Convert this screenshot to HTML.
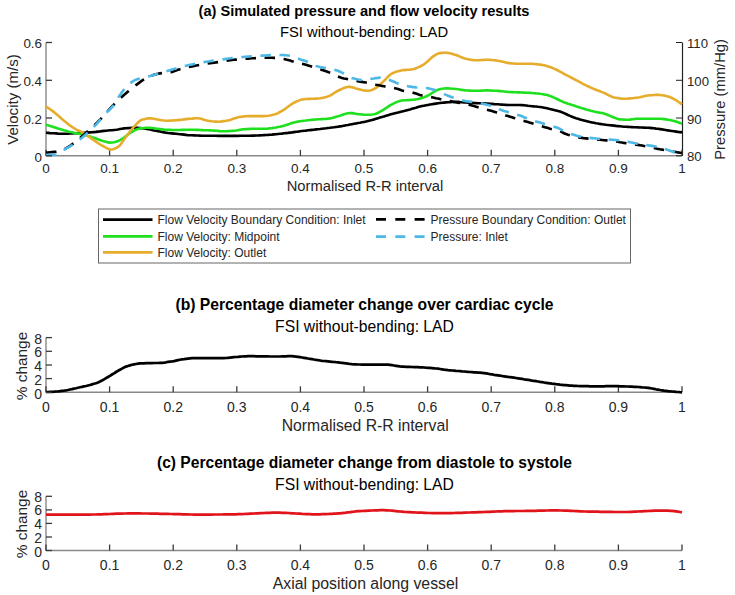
<!DOCTYPE html>
<html><head><meta charset="utf-8"><style>
html,body{margin:0;padding:0;background:#fff;}
body{width:735px;height:595px;overflow:hidden;}
svg{display:block;font-family:"Liberation Sans", sans-serif;}
</style></head><body>
<svg width="735" height="595" viewBox="0 0 735 595">
<text x="364" y="16.0" font-size="14.6" font-weight="bold" text-anchor="middle" fill="#000">(a) Simulated pressure and flow velocity results</text>
<text x="364" y="36.8" font-size="14.75" text-anchor="middle" fill="#000">FSI without-bending: LAD</text>
<line x1="46" y1="42.5" x2="46" y2="156" stroke="#888" stroke-width="1.4"/>
<line x1="46" y1="155.8" x2="682" y2="155.8" stroke="#888" stroke-width="1.4"/>
<line x1="682.5" y1="42.5" x2="682.5" y2="156" stroke="#222" stroke-width="1.2"/>
<line x1="46.0" y1="155.8" x2="46.0" y2="149.8" stroke="#3a3a3a" stroke-width="1.3"/>
<text x="46.0" y="173" font-size="13.5" text-anchor="middle" fill="#262626">0</text>
<line x1="109.6" y1="155.8" x2="109.6" y2="149.8" stroke="#3a3a3a" stroke-width="1.3"/>
<text x="109.6" y="173" font-size="13.5" text-anchor="middle" fill="#262626">0.1</text>
<line x1="173.2" y1="155.8" x2="173.2" y2="149.8" stroke="#3a3a3a" stroke-width="1.3"/>
<text x="173.2" y="173" font-size="13.5" text-anchor="middle" fill="#262626">0.2</text>
<line x1="236.8" y1="155.8" x2="236.8" y2="149.8" stroke="#3a3a3a" stroke-width="1.3"/>
<text x="236.8" y="173" font-size="13.5" text-anchor="middle" fill="#262626">0.3</text>
<line x1="300.4" y1="155.8" x2="300.4" y2="149.8" stroke="#3a3a3a" stroke-width="1.3"/>
<text x="300.4" y="173" font-size="13.5" text-anchor="middle" fill="#262626">0.4</text>
<line x1="364.0" y1="155.8" x2="364.0" y2="149.8" stroke="#3a3a3a" stroke-width="1.3"/>
<text x="364.0" y="173" font-size="13.5" text-anchor="middle" fill="#262626">0.5</text>
<line x1="427.6" y1="155.8" x2="427.6" y2="149.8" stroke="#3a3a3a" stroke-width="1.3"/>
<text x="427.6" y="173" font-size="13.5" text-anchor="middle" fill="#262626">0.6</text>
<line x1="491.2" y1="155.8" x2="491.2" y2="149.8" stroke="#3a3a3a" stroke-width="1.3"/>
<text x="491.2" y="173" font-size="13.5" text-anchor="middle" fill="#262626">0.7</text>
<line x1="554.8" y1="155.8" x2="554.8" y2="149.8" stroke="#3a3a3a" stroke-width="1.3"/>
<text x="554.8" y="173" font-size="13.5" text-anchor="middle" fill="#262626">0.8</text>
<line x1="618.4" y1="155.8" x2="618.4" y2="149.8" stroke="#3a3a3a" stroke-width="1.3"/>
<text x="618.4" y="173" font-size="13.5" text-anchor="middle" fill="#262626">0.9</text>
<line x1="682.0" y1="155.8" x2="682.0" y2="149.8" stroke="#3a3a3a" stroke-width="1.3"/>
<text x="682.0" y="173" font-size="13.5" text-anchor="middle" fill="#262626">1</text>
<path d="M46.0,132.8 L48.0,132.9 L50.0,133.1 L52.0,133.2 L54.0,133.3 L56.0,133.4 L58.0,133.6 L60.0,133.7 L62.0,133.8 L64.0,133.8 L66.0,133.8 L68.0,133.7 L70.0,133.5 L72.0,133.4 L74.0,133.3 L76.0,133.2 L78.0,133.1 L80.0,133.0 L82.0,132.9 L84.0,132.8 L86.0,132.7 L88.0,132.6 L90.0,132.4 L92.0,132.3 L94.0,132.1 L96.0,131.9 L98.0,131.6 L100.0,131.4 L102.0,131.1 L104.0,130.9 L106.0,130.7 L108.0,130.5 L110.0,130.3 L112.0,130.2 L114.0,130.0 L116.0,129.8 L118.0,129.5 L120.0,129.1 L122.0,128.7 L124.0,128.4 L126.0,128.2 L128.0,128.1 L130.0,128.0 L132.0,127.9 L134.0,127.8 L136.0,127.8 L138.0,127.9 L140.0,128.0 L142.0,128.3 L144.0,128.5 L146.0,128.8 L148.0,129.1 L150.0,129.5 L152.0,129.9 L154.0,130.4 L156.0,130.8 L158.0,131.2 L160.0,131.6 L162.0,132.0 L164.0,132.4 L166.0,132.7 L168.0,133.0 L170.0,133.2 L172.0,133.4 L174.0,133.6 L176.0,133.8 L178.0,134.0 L180.0,134.2 L182.0,134.4 L184.0,134.6 L186.0,134.9 L188.0,135.1 L190.0,135.2 L192.0,135.3 L194.0,135.4 L196.0,135.5 L198.0,135.5 L200.0,135.6 L202.0,135.7 L204.0,135.7 L206.0,135.7 L208.0,135.8 L210.0,135.8 L212.0,135.8 L214.0,135.8 L216.0,135.8 L218.0,135.9 L220.0,135.9 L222.0,135.9 L224.0,135.9 L226.0,135.9 L228.0,135.9 L230.0,135.9 L232.0,135.9 L234.0,135.9 L236.0,135.9 L238.0,135.9 L240.0,135.8 L242.0,135.8 L244.0,135.8 L246.0,135.8 L248.0,135.7 L250.0,135.7 L252.0,135.6 L254.0,135.6 L256.0,135.5 L258.0,135.5 L260.0,135.4 L262.0,135.3 L264.0,135.1 L266.0,135.0 L268.0,134.9 L270.0,134.7 L272.0,134.6 L274.0,134.4 L276.0,134.2 L278.0,134.0 L280.0,133.8 L282.0,133.6 L284.0,133.3 L286.0,133.1 L288.0,132.9 L290.0,132.6 L292.0,132.4 L294.0,132.1 L296.0,131.8 L298.0,131.6 L300.0,131.3 L302.0,131.0 L304.0,130.8 L306.0,130.6 L308.0,130.3 L310.0,130.1 L312.0,129.9 L314.0,129.7 L316.0,129.4 L318.0,129.2 L320.0,129.0 L322.0,128.7 L324.0,128.5 L326.0,128.3 L328.0,128.0 L330.0,127.8 L332.0,127.5 L334.0,127.3 L336.0,127.0 L338.0,126.7 L340.0,126.4 L342.0,126.1 L344.0,125.7 L346.0,125.3 L348.0,125.0 L350.0,124.6 L352.0,124.2 L354.0,123.8 L356.0,123.4 L358.0,123.0 L360.0,122.7 L362.0,122.3 L364.0,121.9 L366.0,121.5 L368.0,121.0 L370.0,120.5 L372.0,120.0 L374.0,119.4 L376.0,118.8 L378.0,118.2 L380.0,117.6 L382.0,117.0 L384.0,116.4 L386.0,115.8 L388.0,115.2 L390.0,114.6 L392.0,114.0 L394.0,113.5 L396.0,113.0 L398.0,112.6 L400.0,112.1 L402.0,111.6 L404.0,111.1 L406.0,110.5 L408.0,109.9 L410.0,109.4 L412.0,108.8 L414.0,108.2 L416.0,107.7 L418.0,107.1 L420.0,106.6 L422.0,106.1 L424.0,105.7 L426.0,105.3 L428.0,104.9 L430.0,104.5 L432.0,104.2 L434.0,103.9 L436.0,103.6 L438.0,103.3 L440.0,103.0 L442.0,102.8 L444.0,102.6 L446.0,102.4 L448.0,102.3 L450.0,102.1 L452.0,102.0 L454.0,101.9 L456.0,101.9 L458.0,101.9 L460.0,102.1 L462.0,102.2 L464.0,102.4 L466.0,102.5 L468.0,102.6 L470.0,102.8 L472.0,102.9 L474.0,103.0 L476.0,103.1 L478.0,103.2 L480.0,103.3 L482.0,103.3 L484.0,103.4 L486.0,103.5 L488.0,103.6 L490.0,103.7 L492.0,103.9 L494.0,104.1 L496.0,104.2 L498.0,104.3 L500.0,104.5 L502.0,104.6 L504.0,104.8 L506.0,104.9 L508.0,105.0 L510.0,105.0 L512.0,105.0 L514.0,105.0 L516.0,105.0 L518.0,105.0 L520.0,105.0 L522.0,105.1 L524.0,105.3 L526.0,105.5 L528.0,105.8 L530.0,106.0 L532.0,106.2 L534.0,106.4 L536.0,106.5 L538.0,106.8 L540.0,107.0 L542.0,107.3 L544.0,107.7 L546.0,108.1 L548.0,108.6 L550.0,109.1 L552.0,109.5 L554.0,110.0 L556.0,110.5 L558.0,111.0 L560.0,111.6 L562.0,112.3 L564.0,113.1 L566.0,114.0 L568.0,115.0 L570.0,115.9 L572.0,116.7 L574.0,117.5 L576.0,118.2 L578.0,118.8 L580.0,119.4 L582.0,120.0 L584.0,120.5 L586.0,121.0 L588.0,121.5 L590.0,122.0 L592.0,122.4 L594.0,122.8 L596.0,123.2 L598.0,123.5 L600.0,123.9 L602.0,124.2 L604.0,124.5 L606.0,124.8 L608.0,125.0 L610.0,125.2 L612.0,125.4 L614.0,125.6 L616.0,125.9 L618.0,126.1 L620.0,126.3 L622.0,126.5 L624.0,126.7 L626.0,126.8 L628.0,126.9 L630.0,127.0 L632.0,127.1 L634.0,127.2 L636.0,127.3 L638.0,127.4 L640.0,127.5 L642.0,127.5 L644.0,127.6 L646.0,127.7 L648.0,127.8 L650.0,127.9 L652.0,128.1 L654.0,128.3 L656.0,128.6 L658.0,128.8 L660.0,129.1 L662.0,129.4 L664.0,129.7 L666.0,130.1 L668.0,130.4 L670.0,130.7 L672.0,131.0 L674.0,131.3 L676.0,131.6 L678.0,131.9 L680.0,132.1 L682.0,132.4" fill="none" stroke="#000" stroke-width="2.6" stroke-linejoin="round"/>
<path d="M46.0,124.7 L48.0,125.3 L50.0,126.0 L52.0,126.6 L54.0,127.2 L56.0,127.8 L58.0,128.5 L60.0,129.1 L62.0,129.7 L64.0,130.3 L66.0,130.8 L68.0,131.4 L70.0,131.9 L72.0,132.3 L74.0,132.8 L76.0,133.2 L78.0,133.6 L80.0,134.0 L82.0,134.4 L84.0,134.8 L86.0,135.3 L88.0,135.9 L90.0,136.5 L92.0,137.2 L94.0,137.8 L96.0,138.5 L98.0,139.2 L100.0,140.0 L102.0,140.7 L104.0,141.3 L106.0,141.8 L108.0,142.4 L110.0,142.6 L112.0,142.5 L114.0,142.2 L116.0,141.8 L118.0,141.1 L120.0,140.1 L122.0,138.9 L124.0,137.6 L126.0,136.1 L128.0,134.5 L130.0,133.0 L132.0,131.8 L134.0,130.7 L136.0,129.7 L138.0,128.9 L140.0,128.4 L142.0,128.2 L144.0,128.0 L146.0,127.8 L148.0,127.8 L150.0,127.9 L152.0,128.0 L154.0,128.2 L156.0,128.5 L158.0,128.7 L160.0,129.0 L162.0,129.3 L164.0,129.6 L166.0,129.8 L168.0,129.9 L170.0,129.9 L172.0,130.0 L174.0,130.0 L176.0,130.0 L178.0,130.0 L180.0,130.0 L182.0,129.9 L184.0,129.9 L186.0,129.8 L188.0,129.8 L190.0,129.8 L192.0,129.8 L194.0,129.8 L196.0,129.9 L198.0,129.9 L200.0,130.0 L202.0,130.1 L204.0,130.2 L206.0,130.2 L208.0,130.3 L210.0,130.4 L212.0,130.5 L214.0,130.6 L216.0,130.8 L218.0,130.9 L220.0,131.1 L222.0,131.2 L224.0,131.2 L226.0,131.2 L228.0,131.1 L230.0,131.0 L232.0,130.9 L234.0,130.8 L236.0,130.6 L238.0,130.2 L240.0,129.8 L242.0,129.4 L244.0,129.2 L246.0,129.1 L248.0,129.0 L250.0,128.9 L252.0,128.8 L254.0,128.8 L256.0,128.8 L258.0,128.8 L260.0,128.8 L262.0,128.8 L264.0,128.8 L266.0,128.7 L268.0,128.6 L270.0,128.3 L272.0,128.1 L274.0,127.8 L276.0,127.5 L278.0,127.1 L280.0,126.7 L282.0,126.2 L284.0,125.7 L286.0,125.1 L288.0,124.4 L290.0,123.7 L292.0,123.0 L294.0,122.4 L296.0,122.0 L298.0,121.6 L300.0,121.3 L302.0,121.0 L304.0,120.7 L306.0,120.5 L308.0,120.2 L310.0,120.0 L312.0,119.8 L314.0,119.6 L316.0,119.5 L318.0,119.3 L320.0,119.2 L322.0,119.1 L324.0,119.0 L326.0,118.9 L328.0,118.7 L330.0,118.4 L332.0,118.0 L334.0,117.4 L336.0,116.8 L338.0,116.3 L340.0,115.7 L342.0,115.0 L344.0,114.3 L346.0,113.7 L348.0,113.2 L350.0,113.0 L352.0,113.1 L354.0,113.4 L356.0,113.8 L358.0,114.1 L360.0,114.3 L362.0,114.5 L364.0,114.7 L366.0,114.8 L368.0,114.8 L370.0,114.7 L372.0,114.5 L374.0,114.2 L376.0,113.7 L378.0,112.8 L380.0,111.7 L382.0,110.6 L384.0,109.4 L386.0,108.1 L388.0,106.7 L390.0,105.4 L392.0,104.3 L394.0,103.3 L396.0,102.4 L398.0,101.6 L400.0,100.9 L402.0,100.5 L404.0,100.3 L406.0,100.2 L408.0,100.1 L410.0,100.0 L412.0,99.8 L414.0,99.6 L416.0,99.3 L418.0,98.9 L420.0,98.4 L422.0,97.9 L424.0,97.3 L426.0,96.5 L428.0,95.5 L430.0,94.3 L432.0,93.0 L434.0,91.8 L436.0,90.6 L438.0,89.7 L440.0,89.2 L442.0,88.8 L444.0,88.5 L446.0,88.4 L448.0,88.4 L450.0,88.5 L452.0,88.7 L454.0,88.8 L456.0,89.0 L458.0,89.2 L460.0,89.6 L462.0,89.9 L464.0,90.2 L466.0,90.4 L468.0,90.5 L470.0,90.6 L472.0,90.7 L474.0,90.8 L476.0,90.8 L478.0,90.8 L480.0,90.7 L482.0,90.6 L484.0,90.5 L486.0,90.4 L488.0,90.4 L490.0,90.5 L492.0,90.6 L494.0,90.7 L496.0,90.8 L498.0,90.9 L500.0,91.1 L502.0,91.3 L504.0,91.5 L506.0,91.7 L508.0,91.9 L510.0,92.0 L512.0,92.1 L514.0,92.2 L516.0,92.3 L518.0,92.4 L520.0,92.4 L522.0,92.5 L524.0,92.6 L526.0,92.7 L528.0,92.8 L530.0,92.9 L532.0,93.0 L534.0,93.2 L536.0,93.4 L538.0,93.5 L540.0,93.8 L542.0,94.0 L544.0,94.4 L546.0,94.8 L548.0,95.3 L550.0,95.9 L552.0,96.7 L554.0,97.6 L556.0,98.5 L558.0,99.5 L560.0,100.5 L562.0,101.4 L564.0,102.3 L566.0,103.0 L568.0,103.7 L570.0,104.3 L572.0,105.0 L574.0,105.6 L576.0,106.3 L578.0,106.9 L580.0,107.6 L582.0,108.2 L584.0,108.8 L586.0,109.4 L588.0,110.0 L590.0,110.6 L592.0,111.1 L594.0,111.6 L596.0,112.0 L598.0,112.4 L600.0,112.7 L602.0,113.1 L604.0,113.6 L606.0,114.2 L608.0,115.0 L610.0,115.9 L612.0,116.7 L614.0,117.5 L616.0,118.3 L618.0,119.0 L620.0,119.4 L622.0,119.5 L624.0,119.6 L626.0,119.7 L628.0,119.7 L630.0,119.6 L632.0,119.3 L634.0,119.1 L636.0,118.8 L638.0,118.7 L640.0,118.7 L642.0,118.7 L644.0,118.7 L646.0,118.7 L648.0,118.7 L650.0,118.7 L652.0,118.7 L654.0,118.7 L656.0,118.7 L658.0,118.7 L660.0,118.8 L662.0,118.9 L664.0,119.1 L666.0,119.4 L668.0,119.7 L670.0,120.0 L672.0,120.5 L674.0,121.0 L676.0,121.6 L678.0,122.2 L680.0,122.9 L682.0,123.7" fill="none" stroke="#1fe01f" stroke-width="2.6" stroke-linejoin="round"/>
<path d="M46.0,106.6 L48.0,107.9 L50.0,109.2 L52.0,110.6 L54.0,112.1 L56.0,113.7 L58.0,115.5 L60.0,117.2 L62.0,119.0 L64.0,120.7 L66.0,122.3 L68.0,123.9 L70.0,125.5 L72.0,126.9 L74.0,128.2 L76.0,129.3 L78.0,130.3 L80.0,131.2 L82.0,132.2 L84.0,133.3 L86.0,134.6 L88.0,136.0 L90.0,137.4 L92.0,138.9 L94.0,140.3 L96.0,141.6 L98.0,143.0 L100.0,144.3 L102.0,145.5 L104.0,146.6 L106.0,147.7 L108.0,148.8 L110.0,149.5 L112.0,149.5 L114.0,148.9 L116.0,148.0 L118.0,146.9 L120.0,145.2 L122.0,142.5 L124.0,139.6 L126.0,136.8 L128.0,134.2 L130.0,131.5 L132.0,129.0 L134.0,126.7 L136.0,124.6 L138.0,122.5 L140.0,120.7 L142.0,119.7 L144.0,119.2 L146.0,118.7 L148.0,118.4 L150.0,118.3 L152.0,118.4 L154.0,118.8 L156.0,119.2 L158.0,119.6 L160.0,119.9 L162.0,120.3 L164.0,120.5 L166.0,120.7 L168.0,120.7 L170.0,120.6 L172.0,120.5 L174.0,120.4 L176.0,120.3 L178.0,120.1 L180.0,119.9 L182.0,119.7 L184.0,119.4 L186.0,119.1 L188.0,118.9 L190.0,118.7 L192.0,118.6 L194.0,118.4 L196.0,118.3 L198.0,118.3 L200.0,118.5 L202.0,119.0 L204.0,119.7 L206.0,120.3 L208.0,120.7 L210.0,121.0 L212.0,121.3 L214.0,121.5 L216.0,121.6 L218.0,121.7 L220.0,121.6 L222.0,121.4 L224.0,121.1 L226.0,120.8 L228.0,120.4 L230.0,120.0 L232.0,119.3 L234.0,118.6 L236.0,117.9 L238.0,117.3 L240.0,116.9 L242.0,116.7 L244.0,116.4 L246.0,116.3 L248.0,116.1 L250.0,116.1 L252.0,116.1 L254.0,116.1 L256.0,116.1 L258.0,116.1 L260.0,116.1 L262.0,116.1 L264.0,116.1 L266.0,116.0 L268.0,115.8 L270.0,115.5 L272.0,115.1 L274.0,114.6 L276.0,114.0 L278.0,113.1 L280.0,112.0 L282.0,110.8 L284.0,109.6 L286.0,108.3 L288.0,106.8 L290.0,105.3 L292.0,103.9 L294.0,102.7 L296.0,101.8 L298.0,100.9 L300.0,100.1 L302.0,99.5 L304.0,99.2 L306.0,99.0 L308.0,98.9 L310.0,98.9 L312.0,98.8 L314.0,98.7 L316.0,98.6 L318.0,98.5 L320.0,98.3 L322.0,97.9 L324.0,97.5 L326.0,97.0 L328.0,96.4 L330.0,95.6 L332.0,94.5 L334.0,93.2 L336.0,91.9 L338.0,90.7 L340.0,89.8 L342.0,88.9 L344.0,88.0 L346.0,87.3 L348.0,86.9 L350.0,86.9 L352.0,87.2 L354.0,87.8 L356.0,88.5 L358.0,89.1 L360.0,89.5 L362.0,90.0 L364.0,90.4 L366.0,90.7 L368.0,90.8 L370.0,90.5 L372.0,89.9 L374.0,89.0 L376.0,87.9 L378.0,86.4 L380.0,84.6 L382.0,82.7 L384.0,80.9 L386.0,78.8 L388.0,76.7 L390.0,74.8 L392.0,73.5 L394.0,72.6 L396.0,71.8 L398.0,71.2 L400.0,70.7 L402.0,70.3 L404.0,70.1 L406.0,69.9 L408.0,69.7 L410.0,69.6 L412.0,69.3 L414.0,68.9 L416.0,68.2 L418.0,67.4 L420.0,66.5 L422.0,65.5 L424.0,64.3 L426.0,62.7 L428.0,61.0 L430.0,59.1 L432.0,57.2 L434.0,55.9 L436.0,54.6 L438.0,53.6 L440.0,53.1 L442.0,52.9 L444.0,52.8 L446.0,52.7 L448.0,52.9 L450.0,53.3 L452.0,53.8 L454.0,54.5 L456.0,55.1 L458.0,55.8 L460.0,56.6 L462.0,57.5 L464.0,58.2 L466.0,58.8 L468.0,59.2 L470.0,59.6 L472.0,59.9 L474.0,60.1 L476.0,60.2 L478.0,60.2 L480.0,60.1 L482.0,60.0 L484.0,59.9 L486.0,59.8 L488.0,59.8 L490.0,59.9 L492.0,60.0 L494.0,60.2 L496.0,60.4 L498.0,60.8 L500.0,61.2 L502.0,61.6 L504.0,62.1 L506.0,62.6 L508.0,62.9 L510.0,63.2 L512.0,63.4 L514.0,63.5 L516.0,63.7 L518.0,63.8 L520.0,63.8 L522.0,63.8 L524.0,63.8 L526.0,63.8 L528.0,63.8 L530.0,63.8 L532.0,63.8 L534.0,64.0 L536.0,64.1 L538.0,64.4 L540.0,64.6 L542.0,64.9 L544.0,65.3 L546.0,65.8 L548.0,66.4 L550.0,67.0 L552.0,67.7 L554.0,68.6 L556.0,69.5 L558.0,70.5 L560.0,71.6 L562.0,72.7 L564.0,73.8 L566.0,74.9 L568.0,75.9 L570.0,76.9 L572.0,78.0 L574.0,79.0 L576.0,80.1 L578.0,81.1 L580.0,82.2 L582.0,83.3 L584.0,84.3 L586.0,85.3 L588.0,86.3 L590.0,87.2 L592.0,88.1 L594.0,89.0 L596.0,89.8 L598.0,90.6 L600.0,91.3 L602.0,92.1 L604.0,92.9 L606.0,93.8 L608.0,94.8 L610.0,95.9 L612.0,96.7 L614.0,97.4 L616.0,97.8 L618.0,98.1 L620.0,98.4 L622.0,98.6 L624.0,98.7 L626.0,98.7 L628.0,98.6 L630.0,98.4 L632.0,98.2 L634.0,98.0 L636.0,97.7 L638.0,97.5 L640.0,97.2 L642.0,96.7 L644.0,96.2 L646.0,95.8 L648.0,95.5 L650.0,95.3 L652.0,95.2 L654.0,95.0 L656.0,94.9 L658.0,94.9 L660.0,95.0 L662.0,95.2 L664.0,95.6 L666.0,96.0 L668.0,96.5 L670.0,97.1 L672.0,98.0 L674.0,99.1 L676.0,100.2 L678.0,101.5 L680.0,102.9 L682.0,104.6" fill="none" stroke="#e6ac2c" stroke-width="2.6" stroke-linejoin="round"/>
<path d="M46.0,152.5 L48.0,152.5 L50.0,152.3 L52.0,152.1 L54.0,151.9 L56.0,151.7 L58.0,151.3 L60.0,150.8 L62.0,150.2 L64.0,149.4 L66.0,148.3 L68.0,147.1 L70.0,145.8 L72.0,144.4 L74.0,143.0 L76.0,141.4 L78.0,139.8 L80.0,138.1 L82.0,136.3 L84.0,134.6 L86.0,132.8 L88.0,131.0 L90.0,129.2 L92.0,127.4 L94.0,125.6 L96.0,123.7 L98.0,121.7 L100.0,119.7 L102.0,117.6 L104.0,115.4 L106.0,113.1 L108.0,110.8 L110.0,108.6 L112.0,106.5 L114.0,104.5 L116.0,102.5 L118.0,100.5 L120.0,98.6 L122.0,96.8 L124.0,95.0 L126.0,93.3 L128.0,91.6 L130.0,89.9 L132.0,88.3 L134.0,86.7 L136.0,85.1 L138.0,83.6 L140.0,82.1 L142.0,80.7 L144.0,79.4 L146.0,78.3 L148.0,77.2 L150.0,76.3 L152.0,75.5 L154.0,74.8 L156.0,74.3 L158.0,73.8 L160.0,73.4 L162.0,73.1 L164.0,72.9 L166.0,72.7 L168.0,72.6 L170.0,72.3 L172.0,71.9 L174.0,71.2 L176.0,70.5 L178.0,69.8 L180.0,69.2 L182.0,68.7 L184.0,68.2 L186.0,67.7 L188.0,67.2 L190.0,66.8 L192.0,66.4 L194.0,66.0 L196.0,65.6 L198.0,65.2 L200.0,64.8 L202.0,64.5 L204.0,64.1 L206.0,63.8 L208.0,63.5 L210.0,63.2 L212.0,62.9 L214.0,62.6 L216.0,62.4 L218.0,62.1 L220.0,61.8 L222.0,61.5 L224.0,61.2 L226.0,60.9 L228.0,60.5 L230.0,60.3 L232.0,60.0 L234.0,59.8 L236.0,59.6 L238.0,59.4 L240.0,59.2 L242.0,59.0 L244.0,58.9 L246.0,58.7 L248.0,58.6 L250.0,58.4 L252.0,58.3 L254.0,58.2 L256.0,58.1 L258.0,58.0 L260.0,57.9 L262.0,57.8 L264.0,57.8 L266.0,57.8 L268.0,57.8 L270.0,57.8 L272.0,57.8 L274.0,57.9 L276.0,57.9 L278.0,58.0 L280.0,58.3 L282.0,58.7 L284.0,59.1 L286.0,59.5 L288.0,60.0 L290.0,60.6 L292.0,61.2 L294.0,61.8 L296.0,62.2 L298.0,62.7 L300.0,63.2 L302.0,63.7 L304.0,64.2 L306.0,64.8 L308.0,65.4 L310.0,66.1 L312.0,66.7 L314.0,67.4 L316.0,68.0 L318.0,68.6 L320.0,69.2 L322.0,69.9 L324.0,70.5 L326.0,71.2 L328.0,71.9 L330.0,72.7 L332.0,73.5 L334.0,74.5 L336.0,75.6 L338.0,76.5 L340.0,77.3 L342.0,77.9 L344.0,78.4 L346.0,78.8 L348.0,79.3 L350.0,79.7 L352.0,80.1 L354.0,80.5 L356.0,80.9 L358.0,81.3 L360.0,81.6 L362.0,81.9 L364.0,82.2 L366.0,82.5 L368.0,82.9 L370.0,83.3 L372.0,83.7 L374.0,84.2 L376.0,84.7 L378.0,85.1 L380.0,85.5 L382.0,85.9 L384.0,86.3 L386.0,86.7 L388.0,87.0 L390.0,87.3 L392.0,87.7 L394.0,88.0 L396.0,88.4 L398.0,89.0 L400.0,89.7 L402.0,90.4 L404.0,90.9 L406.0,91.3 L408.0,91.7 L410.0,92.1 L412.0,92.5 L414.0,93.0 L416.0,93.6 L418.0,94.3 L420.0,94.9 L422.0,95.4 L424.0,95.8 L426.0,96.2 L428.0,96.6 L430.0,96.9 L432.0,97.3 L434.0,97.7 L436.0,98.2 L438.0,98.6 L440.0,99.1 L442.0,99.5 L444.0,99.9 L446.0,100.3 L448.0,100.7 L450.0,101.1 L452.0,101.5 L454.0,101.9 L456.0,102.3 L458.0,102.7 L460.0,103.1 L462.0,103.5 L464.0,103.9 L466.0,104.3 L468.0,104.7 L470.0,105.1 L472.0,105.6 L474.0,106.1 L476.0,106.7 L478.0,107.3 L480.0,107.9 L482.0,108.5 L484.0,109.0 L486.0,109.5 L488.0,110.0 L490.0,110.5 L492.0,111.1 L494.0,111.7 L496.0,112.3 L498.0,113.0 L500.0,113.6 L502.0,114.2 L504.0,114.8 L506.0,115.5 L508.0,116.1 L510.0,116.7 L512.0,117.3 L514.0,117.9 L516.0,118.5 L518.0,119.1 L520.0,119.7 L522.0,120.3 L524.0,120.9 L526.0,121.5 L528.0,122.1 L530.0,122.7 L532.0,123.3 L534.0,123.9 L536.0,124.5 L538.0,125.1 L540.0,125.7 L542.0,126.3 L544.0,126.9 L546.0,127.5 L548.0,128.1 L550.0,128.7 L552.0,129.2 L554.0,129.6 L556.0,129.9 L558.0,130.4 L560.0,131.0 L562.0,132.1 L564.0,133.2 L566.0,134.0 L568.0,134.7 L570.0,135.3 L572.0,135.9 L574.0,136.4 L576.0,136.8 L578.0,137.2 L580.0,137.6 L582.0,137.9 L584.0,138.2 L586.0,138.4 L588.0,138.6 L590.0,138.8 L592.0,139.0 L594.0,139.2 L596.0,139.4 L598.0,139.6 L600.0,139.8 L602.0,140.0 L604.0,140.2 L606.0,140.4 L608.0,140.6 L610.0,140.7 L612.0,140.9 L614.0,141.1 L616.0,141.4 L618.0,141.8 L620.0,142.2 L622.0,142.5 L624.0,142.9 L626.0,143.2 L628.0,143.5 L630.0,143.8 L632.0,144.0 L634.0,144.3 L636.0,144.6 L638.0,144.9 L640.0,145.2 L642.0,145.6 L644.0,146.0 L646.0,146.4 L648.0,146.9 L650.0,147.3 L652.0,147.7 L654.0,148.1 L656.0,148.5 L658.0,148.9 L660.0,149.3 L662.0,149.6 L664.0,150.0 L666.0,150.3 L668.0,150.7 L670.0,151.0 L672.0,151.4 L674.0,151.7 L676.0,152.0 L678.0,152.4 L680.0,152.7 L682.0,153.0" fill="none" stroke="#000" stroke-width="2.6" stroke-dasharray="10.5 8.6" stroke-dashoffset="0"/>
<path d="M46.0,155.0 L48.0,155.0 L50.0,154.9 L52.0,154.9 L54.0,154.7 L56.0,154.6 L58.0,154.3 L60.0,153.1 L62.0,151.4 L64.0,149.9 L66.0,148.7 L68.0,147.5 L70.0,146.3 L72.0,145.1 L74.0,143.7 L76.0,142.3 L78.0,140.8 L80.0,139.3 L82.0,137.7 L84.0,136.0 L86.0,134.3 L88.0,132.5 L90.0,130.7 L92.0,128.7 L94.0,126.7 L96.0,124.6 L98.0,122.3 L100.0,120.0 L102.0,117.7 L104.0,115.4 L106.0,113.1 L108.0,111.1 L110.0,109.2 L112.0,107.2 L114.0,104.6 L116.0,101.2 L118.0,97.8 L120.0,94.9 L122.0,92.1 L124.0,89.6 L126.0,87.4 L128.0,85.2 L130.0,83.4 L132.0,81.9 L134.0,80.7 L136.0,79.7 L138.0,78.9 L140.0,78.3 L142.0,77.8 L144.0,77.4 L146.0,77.1 L148.0,76.6 L150.0,76.1 L152.0,75.5 L154.0,74.9 L156.0,74.2 L158.0,73.6 L160.0,72.9 L162.0,72.4 L164.0,71.8 L166.0,71.3 L168.0,70.7 L170.0,70.2 L172.0,69.6 L174.0,69.0 L176.0,68.4 L178.0,67.8 L180.0,67.2 L182.0,66.7 L184.0,66.2 L186.0,65.7 L188.0,65.2 L190.0,64.8 L192.0,64.4 L194.0,64.0 L196.0,63.6 L198.0,63.2 L200.0,62.8 L202.0,62.5 L204.0,62.1 L206.0,61.8 L208.0,61.5 L210.0,61.2 L212.0,60.9 L214.0,60.6 L216.0,60.4 L218.0,60.1 L220.0,59.8 L222.0,59.5 L224.0,59.2 L226.0,58.9 L228.0,58.5 L230.0,58.3 L232.0,58.0 L234.0,57.8 L236.0,57.6 L238.0,57.4 L240.0,57.2 L242.0,57.0 L244.0,56.9 L246.0,56.7 L248.0,56.5 L250.0,56.4 L252.0,56.2 L254.0,56.1 L256.0,56.0 L258.0,55.8 L260.0,55.7 L262.0,55.6 L264.0,55.5 L266.0,55.4 L268.0,55.2 L270.0,55.1 L272.0,55.0 L274.0,55.0 L276.0,55.0 L278.0,55.0 L280.0,55.0 L282.0,55.0 L284.0,55.1 L286.0,55.3 L288.0,55.5 L290.0,55.7 L292.0,56.1 L294.0,56.8 L296.0,57.7 L298.0,58.5 L300.0,59.3 L302.0,60.0 L304.0,60.6 L306.0,61.3 L308.0,62.1 L310.0,62.9 L312.0,64.0 L314.0,65.0 L316.0,65.9 L318.0,66.5 L320.0,67.0 L322.0,67.4 L324.0,67.7 L326.0,68.1 L328.0,68.5 L330.0,68.9 L332.0,69.2 L334.0,69.7 L336.0,70.2 L338.0,70.8 L340.0,71.7 L342.0,72.7 L344.0,73.7 L346.0,74.7 L348.0,75.9 L350.0,77.0 L352.0,78.0 L354.0,78.6 L356.0,79.1 L358.0,79.5 L360.0,79.9 L362.0,80.0 L364.0,79.9 L366.0,79.7 L368.0,79.4 L370.0,79.1 L372.0,78.7 L374.0,78.5 L376.0,78.1 L378.0,77.9 L380.0,77.6 L382.0,77.6 L384.0,77.9 L386.0,78.6 L388.0,79.4 L390.0,80.2 L392.0,81.0 L394.0,81.8 L396.0,82.7 L398.0,83.6 L400.0,84.3 L402.0,84.9 L404.0,85.5 L406.0,85.9 L408.0,86.3 L410.0,86.6 L412.0,86.9 L414.0,87.1 L416.0,87.4 L418.0,87.5 L420.0,87.6 L422.0,87.8 L424.0,87.9 L426.0,88.0 L428.0,88.3 L430.0,88.7 L432.0,89.2 L434.0,89.8 L436.0,90.5 L438.0,91.3 L440.0,92.3 L442.0,93.2 L444.0,94.1 L446.0,94.9 L448.0,95.7 L450.0,96.5 L452.0,97.3 L454.0,97.9 L456.0,98.6 L458.0,99.2 L460.0,99.8 L462.0,100.3 L464.0,100.7 L466.0,101.1 L468.0,101.4 L470.0,101.6 L472.0,101.9 L474.0,102.1 L476.0,102.5 L478.0,102.8 L480.0,103.2 L482.0,103.6 L484.0,104.1 L486.0,104.6 L488.0,105.1 L490.0,105.6 L492.0,106.2 L494.0,106.9 L496.0,107.6 L498.0,108.6 L500.0,109.6 L502.0,110.3 L504.0,110.9 L506.0,111.4 L508.0,112.0 L510.0,112.5 L512.0,113.1 L514.0,113.7 L516.0,114.3 L518.0,114.9 L520.0,115.6 L522.0,116.3 L524.0,117.2 L526.0,118.0 L528.0,118.8 L530.0,119.6 L532.0,120.3 L534.0,120.9 L536.0,121.4 L538.0,122.0 L540.0,122.6 L542.0,123.2 L544.0,123.8 L546.0,124.3 L548.0,124.9 L550.0,125.5 L552.0,126.1 L554.0,126.7 L556.0,127.3 L558.0,128.0 L560.0,128.8 L562.0,130.1 L564.0,131.5 L566.0,132.4 L568.0,133.1 L570.0,133.7 L572.0,134.3 L574.0,134.8 L576.0,135.4 L578.0,135.9 L580.0,136.4 L582.0,136.8 L584.0,137.2 L586.0,137.5 L588.0,137.7 L590.0,137.9 L592.0,138.1 L594.0,138.3 L596.0,138.5 L598.0,138.7 L600.0,138.9 L602.0,139.1 L604.0,139.3 L606.0,139.4 L608.0,139.5 L610.0,139.6 L612.0,139.7 L614.0,139.9 L616.0,140.0 L618.0,140.2 L620.0,140.5 L622.0,140.7 L624.0,141.0 L626.0,141.3 L628.0,141.7 L630.0,142.2 L632.0,142.6 L634.0,143.1 L636.0,143.5 L638.0,143.9 L640.0,144.2 L642.0,144.5 L644.0,144.8 L646.0,145.1 L648.0,145.3 L650.0,145.6 L652.0,145.9 L654.0,146.2 L656.0,146.5 L658.0,146.9 L660.0,147.4 L662.0,148.0 L664.0,148.6 L666.0,149.3 L668.0,150.1 L670.0,150.8 L672.0,151.5 L674.0,152.2 L676.0,152.9 L678.0,153.6 L680.0,154.3 L682.0,155.0" fill="none" stroke="#4db8e6" stroke-width="2.6" stroke-dasharray="10.5 8.6" stroke-dashoffset="0"/>
<line x1="46" y1="155.8" x2="52" y2="155.8" stroke="#3a3a3a" stroke-width="1.3"/>
<text x="42" y="162.3" font-size="13.4" text-anchor="end" fill="#262626">0</text>
<line x1="46" y1="118.0" x2="52" y2="118.0" stroke="#3a3a3a" stroke-width="1.3"/>
<text x="42" y="124.1" font-size="13.4" text-anchor="end" fill="#262626">0.2</text>
<line x1="46" y1="80.3" x2="52" y2="80.3" stroke="#3a3a3a" stroke-width="1.3"/>
<text x="42" y="86.0" font-size="13.4" text-anchor="end" fill="#262626">0.4</text>
<line x1="46" y1="42.5" x2="52" y2="42.5" stroke="#3a3a3a" stroke-width="1.3"/>
<text x="42" y="48.2" font-size="13.4" text-anchor="end" fill="#262626">0.6</text>
<line x1="676" y1="155.8" x2="682" y2="155.8" stroke="#222" stroke-width="1"/>
<text x="687" y="161.3" font-size="13.2" fill="#262626">80</text>
<line x1="676" y1="118.0" x2="682" y2="118.0" stroke="#222" stroke-width="1"/>
<text x="687" y="123.5" font-size="13.2" fill="#262626">90</text>
<line x1="676" y1="80.3" x2="682" y2="80.3" stroke="#222" stroke-width="1"/>
<text x="687" y="85.8" font-size="13.2" fill="#262626">100</text>
<line x1="676" y1="42.5" x2="682" y2="42.5" stroke="#222" stroke-width="1"/>
<text x="687" y="48.0" font-size="13.2" fill="#262626">110</text>
<text x="365" y="191" font-size="14.75" text-anchor="middle" fill="#262626">Normalised R-R interval</text>
<text transform="translate(18.3,99.5) rotate(-90)" font-size="15.1" text-anchor="middle" fill="#262626">Velocity (m/s)</text>
<text transform="translate(725,99.4) rotate(-90)" font-size="14.8" text-anchor="middle" fill="#262626">Pressure (mm/Hg)</text>
<rect x="98.5" y="209" width="532" height="54" fill="#fff" stroke="#666" stroke-width="1"/>
<line x1="103" y1="219.6" x2="152.5" y2="219.6" stroke="#000" stroke-width="2.6"/>
<text x="157.5" y="223.8" font-size="12.0" fill="#262626">Flow Velocity Boundary Condition: Inlet</text>
<line x1="103" y1="236.4" x2="152.5" y2="236.4" stroke="#1fe01f" stroke-width="2.6"/>
<text x="157.5" y="240.6" font-size="12.0" fill="#262626">Flow Velocity: Midpoint</text>
<line x1="103" y1="252.4" x2="152.5" y2="252.4" stroke="#e6ac2c" stroke-width="2.6"/>
<text x="157.5" y="256.6" font-size="12.0" fill="#262626">Flow Velocity: Outlet</text>
<line x1="376" y1="219.4" x2="425" y2="219.4" stroke="#000" stroke-width="2.6" stroke-dasharray="10 9.3"/>
<text x="430.5" y="223.6" font-size="12.0" fill="#262626">Pressure Boundary Condition: Outlet</text>
<line x1="376" y1="236.6" x2="425" y2="236.6" stroke="#4db8e6" stroke-width="2.6" stroke-dasharray="10 9.3"/>
<text x="430.5" y="240.8" font-size="12.0" fill="#262626">Pressure: Inlet</text>
<text x="364.5" y="310.2" font-size="15.68" font-weight="bold" text-anchor="middle" fill="#000">(b) Percentage diameter change over cardiac cycle</text>
<text x="364.5" y="332.2" font-size="15.7" text-anchor="middle" fill="#000">FSI without-bending: LAD</text>
<line x1="46" y1="337.6" x2="46" y2="392.8" stroke="#888" stroke-width="1.4"/>
<line x1="46" y1="392.3" x2="682" y2="392.3" stroke="#888" stroke-width="1.4"/>
<line x1="46.0" y1="392.3" x2="46.0" y2="386.3" stroke="#3a3a3a" stroke-width="1.3"/>
<text x="46.0" y="412" font-size="14" text-anchor="middle" fill="#262626">0</text>
<line x1="109.6" y1="392.3" x2="109.6" y2="386.3" stroke="#3a3a3a" stroke-width="1.3"/>
<text x="109.6" y="412" font-size="14" text-anchor="middle" fill="#262626">0.1</text>
<line x1="173.2" y1="392.3" x2="173.2" y2="386.3" stroke="#3a3a3a" stroke-width="1.3"/>
<text x="173.2" y="412" font-size="14" text-anchor="middle" fill="#262626">0.2</text>
<line x1="236.8" y1="392.3" x2="236.8" y2="386.3" stroke="#3a3a3a" stroke-width="1.3"/>
<text x="236.8" y="412" font-size="14" text-anchor="middle" fill="#262626">0.3</text>
<line x1="300.4" y1="392.3" x2="300.4" y2="386.3" stroke="#3a3a3a" stroke-width="1.3"/>
<text x="300.4" y="412" font-size="14" text-anchor="middle" fill="#262626">0.4</text>
<line x1="364.0" y1="392.3" x2="364.0" y2="386.3" stroke="#3a3a3a" stroke-width="1.3"/>
<text x="364.0" y="412" font-size="14" text-anchor="middle" fill="#262626">0.5</text>
<line x1="427.6" y1="392.3" x2="427.6" y2="386.3" stroke="#3a3a3a" stroke-width="1.3"/>
<text x="427.6" y="412" font-size="14" text-anchor="middle" fill="#262626">0.6</text>
<line x1="491.2" y1="392.3" x2="491.2" y2="386.3" stroke="#3a3a3a" stroke-width="1.3"/>
<text x="491.2" y="412" font-size="14" text-anchor="middle" fill="#262626">0.7</text>
<line x1="554.8" y1="392.3" x2="554.8" y2="386.3" stroke="#3a3a3a" stroke-width="1.3"/>
<text x="554.8" y="412" font-size="14" text-anchor="middle" fill="#262626">0.8</text>
<line x1="618.4" y1="392.3" x2="618.4" y2="386.3" stroke="#3a3a3a" stroke-width="1.3"/>
<text x="618.4" y="412" font-size="14" text-anchor="middle" fill="#262626">0.9</text>
<line x1="682.0" y1="392.3" x2="682.0" y2="386.3" stroke="#3a3a3a" stroke-width="1.3"/>
<text x="682.0" y="412" font-size="14" text-anchor="middle" fill="#262626">1</text>
<path d="M46.0,392.0 L48.0,392.0 L50.0,391.9 L52.0,391.8 L54.0,391.7 L56.0,391.5 L58.0,391.4 L60.0,391.2 L62.0,390.9 L64.0,390.7 L66.0,390.4 L68.0,390.0 L70.0,389.5 L72.0,389.1 L74.0,388.6 L76.0,388.2 L78.0,387.7 L80.0,387.3 L82.0,386.9 L84.0,386.4 L86.0,386.0 L88.0,385.5 L90.0,385.0 L92.0,384.4 L94.0,383.8 L96.0,383.2 L98.0,382.4 L100.0,381.5 L102.0,380.5 L104.0,379.4 L106.0,378.2 L108.0,377.0 L110.0,375.8 L112.0,374.5 L114.0,373.3 L116.0,372.0 L118.0,370.8 L120.0,369.7 L122.0,368.6 L124.0,367.5 L126.0,366.6 L128.0,366.0 L130.0,365.4 L132.0,364.8 L134.0,364.4 L136.0,364.0 L138.0,363.7 L140.0,363.4 L142.0,363.3 L144.0,363.3 L146.0,363.2 L148.0,363.2 L150.0,363.1 L152.0,363.1 L154.0,363.0 L156.0,363.0 L158.0,363.0 L160.0,362.9 L162.0,362.8 L164.0,362.6 L166.0,362.3 L168.0,361.9 L170.0,361.6 L172.0,361.4 L174.0,361.1 L176.0,360.6 L178.0,360.1 L180.0,359.7 L182.0,359.3 L184.0,359.1 L186.0,358.8 L188.0,358.6 L190.0,358.4 L192.0,358.2 L194.0,358.1 L196.0,358.1 L198.0,358.1 L200.0,358.1 L202.0,358.1 L204.0,358.1 L206.0,358.1 L208.0,358.1 L210.0,358.1 L212.0,358.1 L214.0,358.1 L216.0,358.1 L218.0,358.1 L220.0,358.1 L222.0,358.1 L224.0,358.1 L226.0,358.0 L228.0,357.8 L230.0,357.6 L232.0,357.4 L234.0,357.2 L236.0,357.0 L238.0,356.9 L240.0,356.7 L242.0,356.5 L244.0,356.4 L246.0,356.3 L248.0,356.2 L250.0,356.2 L252.0,356.2 L254.0,356.2 L256.0,356.3 L258.0,356.3 L260.0,356.4 L262.0,356.4 L264.0,356.4 L266.0,356.4 L268.0,356.4 L270.0,356.5 L272.0,356.5 L274.0,356.5 L276.0,356.5 L278.0,356.5 L280.0,356.5 L282.0,356.4 L284.0,356.3 L286.0,356.3 L288.0,356.2 L290.0,356.2 L292.0,356.2 L294.0,356.4 L296.0,356.6 L298.0,356.9 L300.0,357.2 L302.0,357.5 L304.0,357.8 L306.0,358.1 L308.0,358.5 L310.0,358.8 L312.0,359.1 L314.0,359.5 L316.0,359.8 L318.0,360.2 L320.0,360.5 L322.0,360.8 L324.0,361.0 L326.0,361.2 L328.0,361.4 L330.0,361.6 L332.0,361.8 L334.0,362.0 L336.0,362.2 L338.0,362.3 L340.0,362.6 L342.0,362.8 L344.0,363.1 L346.0,363.4 L348.0,363.7 L350.0,364.0 L352.0,364.2 L354.0,364.3 L356.0,364.4 L358.0,364.5 L360.0,364.5 L362.0,364.6 L364.0,364.6 L366.0,364.7 L368.0,364.7 L370.0,364.7 L372.0,364.7 L374.0,364.7 L376.0,364.7 L378.0,364.7 L380.0,364.7 L382.0,364.7 L384.0,364.7 L386.0,364.7 L388.0,364.7 L390.0,364.9 L392.0,365.2 L394.0,365.5 L396.0,365.8 L398.0,366.1 L400.0,366.4 L402.0,366.6 L404.0,366.7 L406.0,366.8 L408.0,366.9 L410.0,366.9 L412.0,367.0 L414.0,367.1 L416.0,367.1 L418.0,367.2 L420.0,367.3 L422.0,367.4 L424.0,367.5 L426.0,367.7 L428.0,367.8 L430.0,367.9 L432.0,368.1 L434.0,368.3 L436.0,368.5 L438.0,368.7 L440.0,369.0 L442.0,369.3 L444.0,369.6 L446.0,369.8 L448.0,370.1 L450.0,370.3 L452.0,370.5 L454.0,370.7 L456.0,370.9 L458.0,371.0 L460.0,371.2 L462.0,371.4 L464.0,371.5 L466.0,371.7 L468.0,371.8 L470.0,372.0 L472.0,372.1 L474.0,372.3 L476.0,372.4 L478.0,372.6 L480.0,372.7 L482.0,372.9 L484.0,373.1 L486.0,373.4 L488.0,373.7 L490.0,374.1 L492.0,374.4 L494.0,374.8 L496.0,375.1 L498.0,375.4 L500.0,375.7 L502.0,376.0 L504.0,376.3 L506.0,376.6 L508.0,376.9 L510.0,377.1 L512.0,377.4 L514.0,377.7 L516.0,378.0 L518.0,378.3 L520.0,378.6 L522.0,378.9 L524.0,379.3 L526.0,379.6 L528.0,379.9 L530.0,380.2 L532.0,380.6 L534.0,380.9 L536.0,381.2 L538.0,381.5 L540.0,381.9 L542.0,382.2 L544.0,382.5 L546.0,382.8 L548.0,383.1 L550.0,383.4 L552.0,383.7 L554.0,383.9 L556.0,384.2 L558.0,384.4 L560.0,384.7 L562.0,384.9 L564.0,385.1 L566.0,385.2 L568.0,385.4 L570.0,385.6 L572.0,385.7 L574.0,385.8 L576.0,385.9 L578.0,386.0 L580.0,386.1 L582.0,386.1 L584.0,386.2 L586.0,386.2 L588.0,386.2 L590.0,386.3 L592.0,386.3 L594.0,386.3 L596.0,386.3 L598.0,386.3 L600.0,386.3 L602.0,386.3 L604.0,386.3 L606.0,386.2 L608.0,386.2 L610.0,386.2 L612.0,386.2 L614.0,386.2 L616.0,386.2 L618.0,386.2 L620.0,386.3 L622.0,386.3 L624.0,386.4 L626.0,386.5 L628.0,386.5 L630.0,386.6 L632.0,386.7 L634.0,386.8 L636.0,386.9 L638.0,387.0 L640.0,387.2 L642.0,387.4 L644.0,387.5 L646.0,387.7 L648.0,387.9 L650.0,388.2 L652.0,388.5 L654.0,388.9 L656.0,389.3 L658.0,389.6 L660.0,390.0 L662.0,390.3 L664.0,390.6 L666.0,390.8 L668.0,391.1 L670.0,391.3 L672.0,391.5 L674.0,391.7 L676.0,391.9 L678.0,392.0 L680.0,392.2 L682.0,392.3" fill="none" stroke="#000" stroke-width="2.7" stroke-linejoin="round"/>
<line x1="46" y1="392.3" x2="52" y2="392.3" stroke="#3a3a3a" stroke-width="1.3"/>
<text x="42" y="399.1" font-size="14" text-anchor="end" fill="#262626">0</text>
<line x1="46" y1="378.6" x2="52" y2="378.6" stroke="#3a3a3a" stroke-width="1.3"/>
<text x="42" y="385.2" font-size="14" text-anchor="end" fill="#262626">2</text>
<line x1="46" y1="365.0" x2="52" y2="365.0" stroke="#3a3a3a" stroke-width="1.3"/>
<text x="42" y="371.3" font-size="14" text-anchor="end" fill="#262626">4</text>
<line x1="46" y1="351.3" x2="52" y2="351.3" stroke="#3a3a3a" stroke-width="1.3"/>
<text x="42" y="357.4" font-size="14" text-anchor="end" fill="#262626">6</text>
<line x1="46" y1="337.6" x2="52" y2="337.6" stroke="#3a3a3a" stroke-width="1.3"/>
<text x="42" y="343.5" font-size="14" text-anchor="end" fill="#262626">8</text>
<text x="365.2" y="430.6" font-size="15.74" text-anchor="middle" fill="#262626">Normalised R-R interval</text>
<text transform="translate(27,366) rotate(-90)" font-size="15.4" text-anchor="middle" fill="#262626">% change</text>
<text x="364.5" y="468.3" font-size="15.6" font-weight="bold" text-anchor="middle" fill="#000">(c) Percentage diameter change from diastole to systole</text>
<text x="364.5" y="490.2" font-size="15.7" text-anchor="middle" fill="#000">FSI without-bending: LAD</text>
<line x1="46" y1="496.3" x2="46" y2="551.0" stroke="#888" stroke-width="1.4"/>
<line x1="46" y1="550.5" x2="682" y2="550.5" stroke="#888" stroke-width="1.4"/>
<line x1="46.0" y1="550.5" x2="46.0" y2="544.5" stroke="#3a3a3a" stroke-width="1.3"/>
<text x="46.0" y="569.5" font-size="14" text-anchor="middle" fill="#262626">0</text>
<line x1="109.6" y1="550.5" x2="109.6" y2="544.5" stroke="#3a3a3a" stroke-width="1.3"/>
<text x="109.6" y="569.5" font-size="14" text-anchor="middle" fill="#262626">0.1</text>
<line x1="173.2" y1="550.5" x2="173.2" y2="544.5" stroke="#3a3a3a" stroke-width="1.3"/>
<text x="173.2" y="569.5" font-size="14" text-anchor="middle" fill="#262626">0.2</text>
<line x1="236.8" y1="550.5" x2="236.8" y2="544.5" stroke="#3a3a3a" stroke-width="1.3"/>
<text x="236.8" y="569.5" font-size="14" text-anchor="middle" fill="#262626">0.3</text>
<line x1="300.4" y1="550.5" x2="300.4" y2="544.5" stroke="#3a3a3a" stroke-width="1.3"/>
<text x="300.4" y="569.5" font-size="14" text-anchor="middle" fill="#262626">0.4</text>
<line x1="364.0" y1="550.5" x2="364.0" y2="544.5" stroke="#3a3a3a" stroke-width="1.3"/>
<text x="364.0" y="569.5" font-size="14" text-anchor="middle" fill="#262626">0.5</text>
<line x1="427.6" y1="550.5" x2="427.6" y2="544.5" stroke="#3a3a3a" stroke-width="1.3"/>
<text x="427.6" y="569.5" font-size="14" text-anchor="middle" fill="#262626">0.6</text>
<line x1="491.2" y1="550.5" x2="491.2" y2="544.5" stroke="#3a3a3a" stroke-width="1.3"/>
<text x="491.2" y="569.5" font-size="14" text-anchor="middle" fill="#262626">0.7</text>
<line x1="554.8" y1="550.5" x2="554.8" y2="544.5" stroke="#3a3a3a" stroke-width="1.3"/>
<text x="554.8" y="569.5" font-size="14" text-anchor="middle" fill="#262626">0.8</text>
<line x1="618.4" y1="550.5" x2="618.4" y2="544.5" stroke="#3a3a3a" stroke-width="1.3"/>
<text x="618.4" y="569.5" font-size="14" text-anchor="middle" fill="#262626">0.9</text>
<line x1="682.0" y1="550.5" x2="682.0" y2="544.5" stroke="#3a3a3a" stroke-width="1.3"/>
<text x="682.0" y="569.5" font-size="14" text-anchor="middle" fill="#262626">1</text>
<path d="M46.0,514.6 L48.0,514.6 L50.0,514.6 L52.0,514.6 L54.0,514.6 L56.0,514.6 L58.0,514.6 L60.0,514.6 L62.0,514.6 L64.0,514.6 L66.0,514.6 L68.0,514.6 L70.0,514.6 L72.0,514.6 L74.0,514.6 L76.0,514.6 L78.0,514.6 L80.0,514.6 L82.0,514.6 L84.0,514.6 L86.0,514.6 L88.0,514.6 L90.0,514.6 L92.0,514.5 L94.0,514.5 L96.0,514.5 L98.0,514.4 L100.0,514.3 L102.0,514.3 L104.0,514.2 L106.0,514.1 L108.0,514.1 L110.0,514.0 L112.0,513.9 L114.0,513.8 L116.0,513.7 L118.0,513.7 L120.0,513.6 L122.0,513.6 L124.0,513.5 L126.0,513.5 L128.0,513.4 L130.0,513.4 L132.0,513.4 L134.0,513.4 L136.0,513.4 L138.0,513.4 L140.0,513.4 L142.0,513.5 L144.0,513.5 L146.0,513.5 L148.0,513.5 L150.0,513.6 L152.0,513.6 L154.0,513.7 L156.0,513.7 L158.0,513.7 L160.0,513.8 L162.0,513.8 L164.0,513.8 L166.0,513.9 L168.0,513.9 L170.0,514.0 L172.0,514.0 L174.0,514.1 L176.0,514.1 L178.0,514.2 L180.0,514.2 L182.0,514.3 L184.0,514.3 L186.0,514.4 L188.0,514.4 L190.0,514.5 L192.0,514.5 L194.0,514.6 L196.0,514.6 L198.0,514.6 L200.0,514.6 L202.0,514.6 L204.0,514.6 L206.0,514.6 L208.0,514.6 L210.0,514.6 L212.0,514.6 L214.0,514.5 L216.0,514.5 L218.0,514.5 L220.0,514.5 L222.0,514.5 L224.0,514.4 L226.0,514.4 L228.0,514.4 L230.0,514.4 L232.0,514.3 L234.0,514.3 L236.0,514.3 L238.0,514.2 L240.0,514.2 L242.0,514.1 L244.0,514.0 L246.0,513.9 L248.0,513.8 L250.0,513.7 L252.0,513.6 L254.0,513.5 L256.0,513.4 L258.0,513.3 L260.0,513.2 L262.0,513.1 L264.0,513.0 L266.0,512.9 L268.0,512.8 L270.0,512.8 L272.0,512.7 L274.0,512.7 L276.0,512.7 L278.0,512.7 L280.0,512.7 L282.0,512.8 L284.0,512.9 L286.0,512.9 L288.0,513.0 L290.0,513.1 L292.0,513.3 L294.0,513.4 L296.0,513.5 L298.0,513.6 L300.0,513.7 L302.0,513.9 L304.0,514.0 L306.0,514.1 L308.0,514.1 L310.0,514.2 L312.0,514.3 L314.0,514.3 L316.0,514.3 L318.0,514.3 L320.0,514.3 L322.0,514.2 L324.0,514.1 L326.0,514.1 L328.0,514.0 L330.0,513.9 L332.0,513.8 L334.0,513.7 L336.0,513.6 L338.0,513.4 L340.0,513.3 L342.0,513.1 L344.0,512.9 L346.0,512.7 L348.0,512.4 L350.0,512.2 L352.0,511.9 L354.0,511.7 L356.0,511.4 L358.0,511.2 L360.0,511.1 L362.0,511.0 L364.0,510.9 L366.0,510.8 L368.0,510.7 L370.0,510.6 L372.0,510.5 L374.0,510.4 L376.0,510.3 L378.0,510.3 L380.0,510.2 L382.0,510.2 L384.0,510.2 L386.0,510.3 L388.0,510.4 L390.0,510.5 L392.0,510.7 L394.0,510.9 L396.0,511.1 L398.0,511.3 L400.0,511.5 L402.0,511.7 L404.0,511.9 L406.0,512.0 L408.0,512.1 L410.0,512.2 L412.0,512.3 L414.0,512.4 L416.0,512.5 L418.0,512.6 L420.0,512.7 L422.0,512.7 L424.0,512.8 L426.0,512.9 L428.0,513.0 L430.0,513.0 L432.0,513.1 L434.0,513.1 L436.0,513.2 L438.0,513.2 L440.0,513.2 L442.0,513.2 L444.0,513.2 L446.0,513.2 L448.0,513.1 L450.0,513.1 L452.0,513.1 L454.0,513.0 L456.0,512.9 L458.0,512.9 L460.0,512.8 L462.0,512.8 L464.0,512.7 L466.0,512.6 L468.0,512.5 L470.0,512.5 L472.0,512.4 L474.0,512.3 L476.0,512.3 L478.0,512.2 L480.0,512.2 L482.0,512.1 L484.0,512.0 L486.0,511.9 L488.0,511.8 L490.0,511.8 L492.0,511.7 L494.0,511.6 L496.0,511.5 L498.0,511.4 L500.0,511.4 L502.0,511.3 L504.0,511.2 L506.0,511.2 L508.0,511.1 L510.0,511.1 L512.0,511.1 L514.0,511.1 L516.0,511.0 L518.0,511.0 L520.0,511.0 L522.0,511.0 L524.0,511.0 L526.0,510.9 L528.0,510.9 L530.0,510.9 L532.0,510.9 L534.0,510.8 L536.0,510.8 L538.0,510.7 L540.0,510.7 L542.0,510.6 L544.0,510.6 L546.0,510.5 L548.0,510.5 L550.0,510.4 L552.0,510.4 L554.0,510.4 L556.0,510.4 L558.0,510.4 L560.0,510.5 L562.0,510.5 L564.0,510.6 L566.0,510.7 L568.0,510.7 L570.0,510.8 L572.0,510.9 L574.0,511.0 L576.0,511.1 L578.0,511.2 L580.0,511.3 L582.0,511.4 L584.0,511.5 L586.0,511.5 L588.0,511.6 L590.0,511.6 L592.0,511.6 L594.0,511.7 L596.0,511.7 L598.0,511.7 L600.0,511.8 L602.0,511.8 L604.0,511.8 L606.0,511.9 L608.0,511.9 L610.0,511.9 L612.0,511.9 L614.0,512.0 L616.0,512.0 L618.0,512.0 L620.0,512.0 L622.0,512.0 L624.0,512.0 L626.0,512.0 L628.0,512.0 L630.0,511.9 L632.0,511.8 L634.0,511.7 L636.0,511.6 L638.0,511.5 L640.0,511.4 L642.0,511.3 L644.0,511.2 L646.0,511.1 L648.0,511.0 L650.0,510.9 L652.0,510.8 L654.0,510.7 L656.0,510.6 L658.0,510.6 L660.0,510.6 L662.0,510.6 L664.0,510.6 L666.0,510.7 L668.0,510.7 L670.0,510.8 L672.0,510.9 L674.0,511.1 L676.0,511.4 L678.0,511.7 L680.0,512.0 L681.9,512.4" fill="none" stroke="#e0141a" stroke-width="2.7" stroke-linejoin="round"/>
<line x1="46" y1="550.5" x2="52" y2="550.5" stroke="#3a3a3a" stroke-width="1.3"/>
<text x="42" y="557.1" font-size="14" text-anchor="end" fill="#262626">0</text>
<line x1="46" y1="537.0" x2="52" y2="537.0" stroke="#3a3a3a" stroke-width="1.3"/>
<text x="42" y="543.2" font-size="14" text-anchor="end" fill="#262626">2</text>
<line x1="46" y1="523.4" x2="52" y2="523.4" stroke="#3a3a3a" stroke-width="1.3"/>
<text x="42" y="529.3" font-size="14" text-anchor="end" fill="#262626">4</text>
<line x1="46" y1="509.9" x2="52" y2="509.9" stroke="#3a3a3a" stroke-width="1.3"/>
<text x="42" y="515.4" font-size="14" text-anchor="end" fill="#262626">6</text>
<line x1="46" y1="496.3" x2="52" y2="496.3" stroke="#3a3a3a" stroke-width="1.3"/>
<text x="42" y="501.5" font-size="14" text-anchor="end" fill="#262626">8</text>
<text x="365.5" y="588.9" font-size="15.83" text-anchor="middle" fill="#262626">Axial position along vessel</text>
<text transform="translate(27,524) rotate(-90)" font-size="15.4" text-anchor="middle" fill="#262626">% change</text>
</svg>
</body></html>
